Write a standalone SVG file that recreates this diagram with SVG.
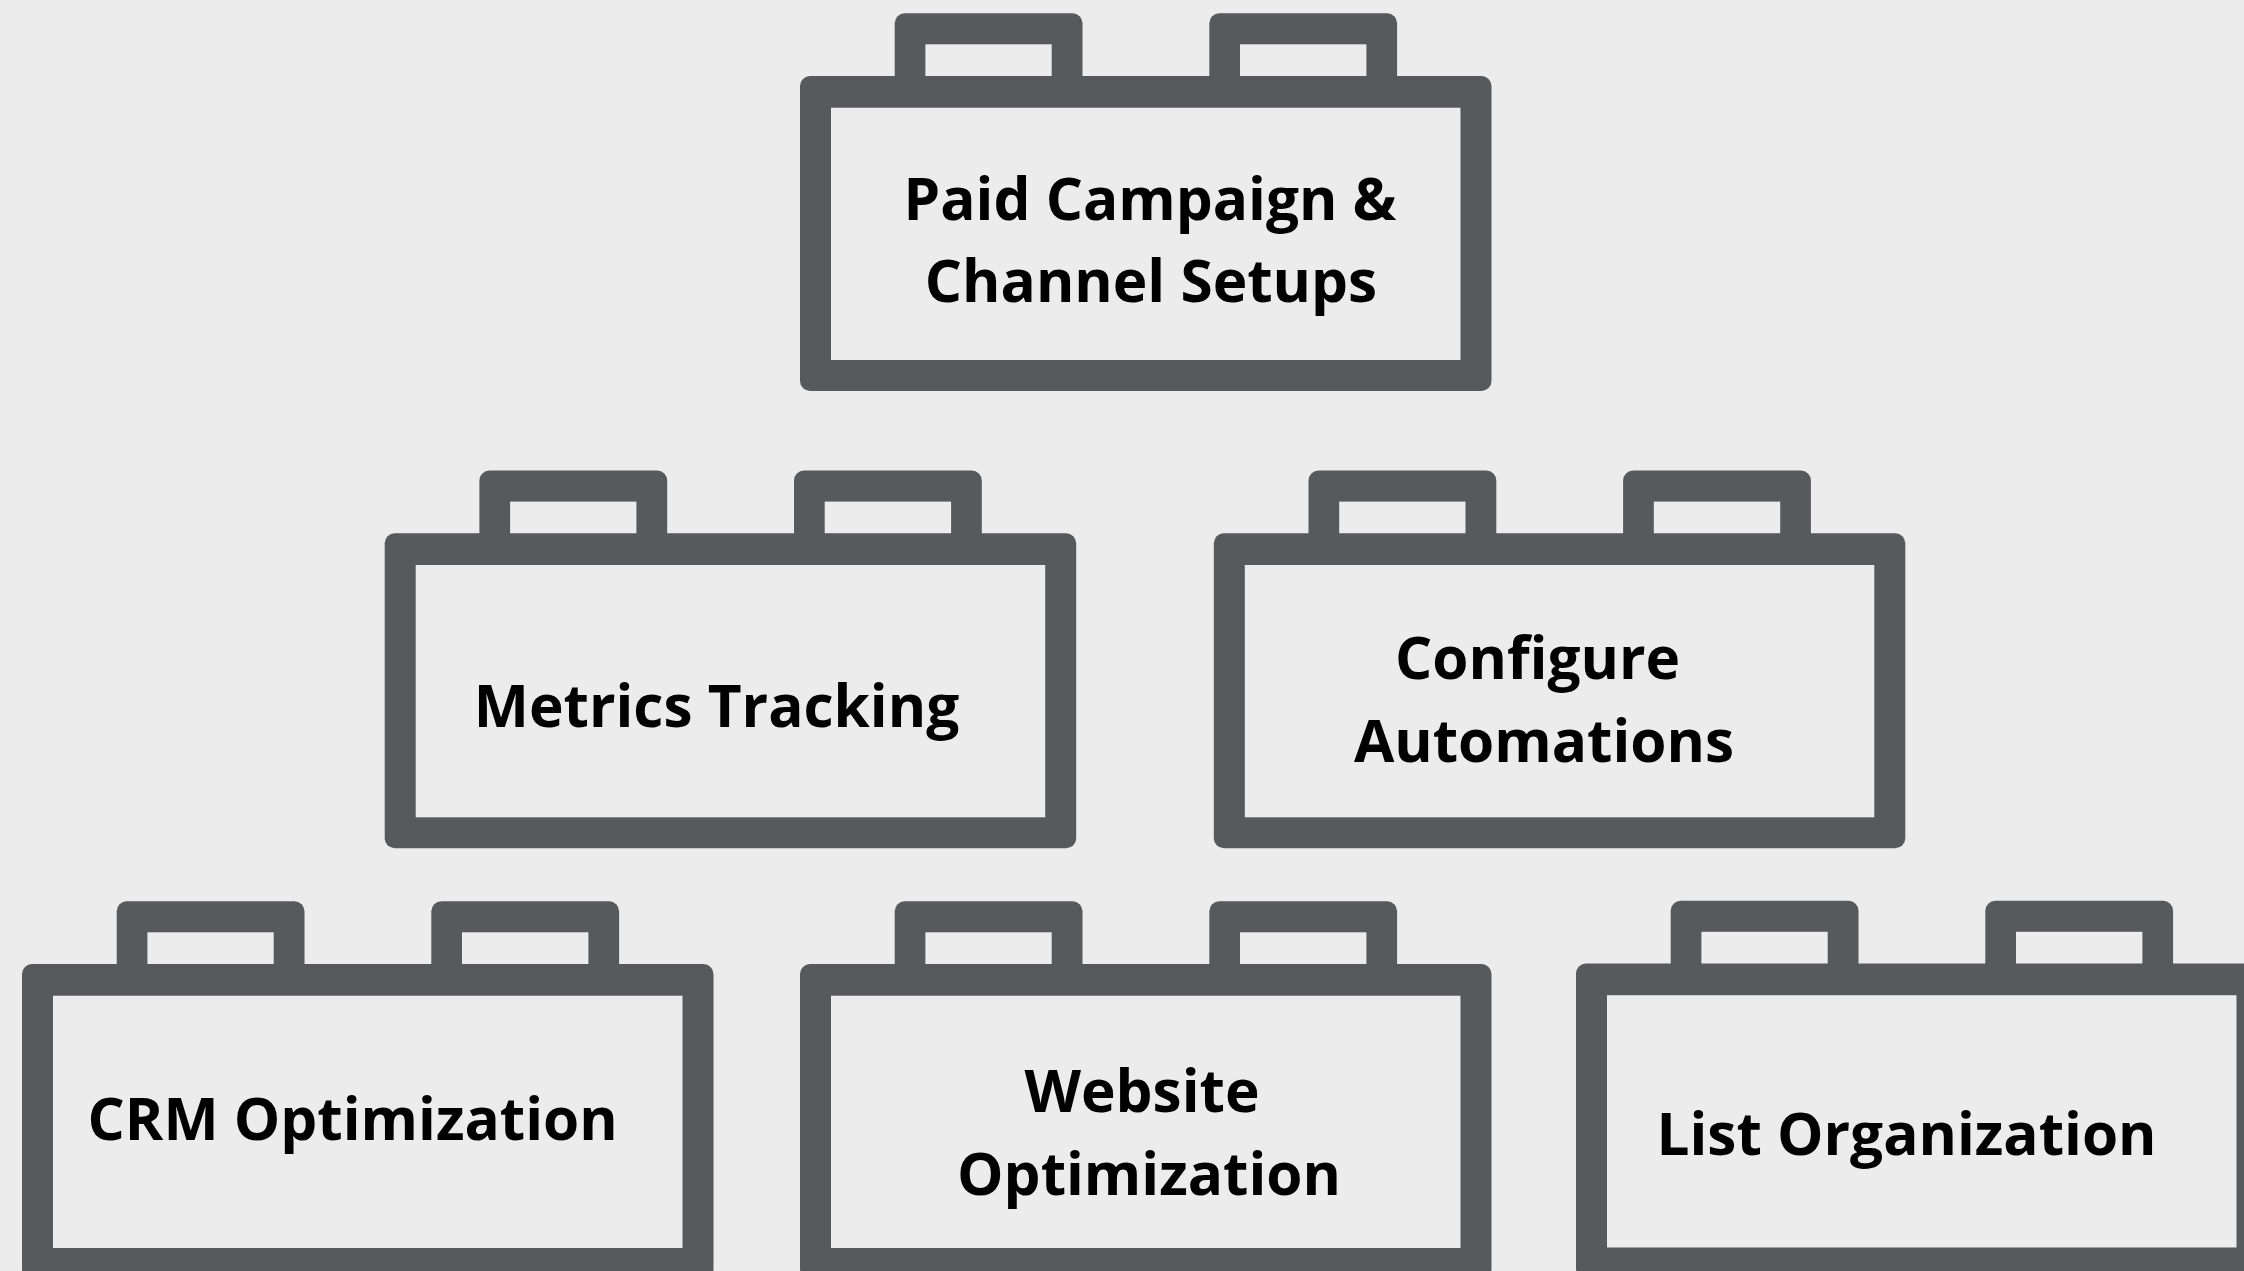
<svg xmlns="http://www.w3.org/2000/svg" xmlns:xlink="http://www.w3.org/1999/xlink" width="2244" height="1271" viewBox="0 0 2244 1271">
<style>
.dark{fill:#58595b}
.light{fill:#ececec}
.lbl{font-family:"Open Sans","Liberation Sans",sans-serif;font-weight:bold;font-size:58.5px;fill:#000;text-anchor:middle}
</style>
<defs>
<g id="brick">
<rect class="dark" x="94.7" y="-62.7" width="187.8" height="80" rx="10"/>
<rect class="light" x="125.4" y="-31.7" width="126.3" height="40"/>
<rect class="dark" x="409.3" y="-62.7" width="187.8" height="80" rx="10"/>
<rect class="light" x="440" y="-31.7" width="126.4" height="40"/>
<rect class="dark" x="0" y="0" width="691.5" height="315" rx="10"/>
<rect class="light" x="31" y="31.7" width="629.5" height="252.3"/>
</g>
</defs>
<rect x="0" y="0" width="2244" height="1271" fill="#ececec"/>
<g id="connectors"></g>
<g id="node-paid">
<use xlink:href="#brick" transform="translate(800,76)"/>
<text class="lbl" x="1150" y="220">Paid Campaign &amp;</text>
<text class="lbl" x="1151" y="302">Channel Setups</text>
</g>
<g id="node-metrics">
<use xlink:href="#brick" transform="translate(384.7,533.3)"/>
<text class="lbl" x="716.5" y="727">Metrics Tracking</text>
</g>
<g id="node-configure">
<use xlink:href="#brick" transform="translate(1213.8,533.3)"/>
<text class="lbl" x="1537.5" y="678.5">Configure</text>
<text class="lbl" x="1544" y="762">Automations</text>
</g>
<g id="node-crm">
<use xlink:href="#brick" transform="translate(22,964)"/>
<text class="lbl" x="352.6" y="1140">CRM Optimization</text>
</g>
<g id="node-website">
<use xlink:href="#brick" transform="translate(800,964)"/>
<text class="lbl" x="1142" y="1112">Website</text>
<text class="lbl" x="1149" y="1195">Optimization</text>
</g>
<g id="node-list">
<use xlink:href="#brick" transform="translate(1576,963.5)"/>
<text class="lbl" x="1906.5" y="1155">List Organization</text>
</g>
</svg>
